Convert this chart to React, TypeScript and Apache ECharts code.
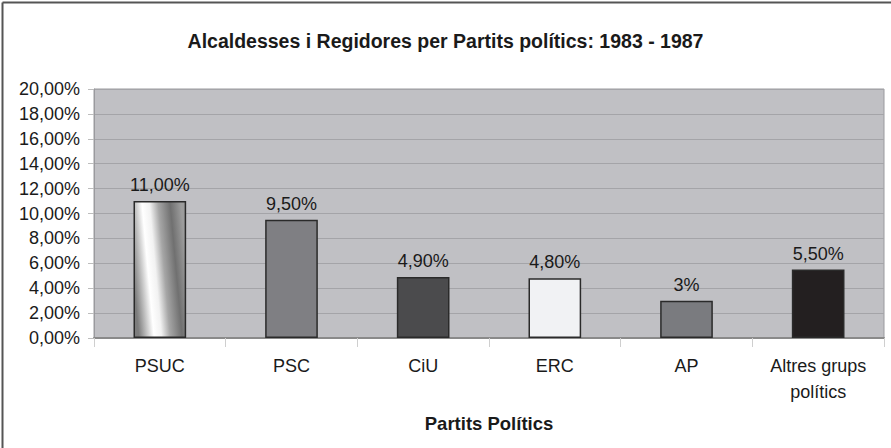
import React, { useEffect, useRef } from "react";
import * as echarts from "echarts";

const categories = ["PSUC", "PSC", "CiU", "ERC", "AP", "Altres grups\npolítics"];
const values = [11.0, 9.5, 4.9, 4.8, 3.0, 5.5];
const valueLabels = ["11,00%", "9,50%", "4,90%", "4,80%", "3%", "5,50%"];
const yTicks = [0, 2, 4, 6, 8, 10, 12, 14, 16, 18, 20];
const yTickLabels = ["0,00%", "2,00%", "4,00%", "6,00%", "8,00%", "10,00%", "12,00%", "14,00%", "16,00%", "18,00%", "20,00%"];

const FONT = "'Liberation Sans', Arial, sans-serif";

export default function App() {
  const ref = useRef<HTMLDivElement>(null);
  useEffect(() => {
    if (!ref.current) return;
    const chart = echarts.init(ref.current, undefined, { renderer: "svg" });
    const metallic = new echarts.graphic.LinearGradient(0, 0.62, 1, 0.38, [
      { offset: 0, color: "#7c7c7c" },
      { offset: 0.28, color: "#ffffff" },
      { offset: 0.42, color: "#f2f2f2" },
      { offset: 0.58, color: "#a6a6a6" },
      { offset: 0.8, color: "#707070" },
      { offset: 1, color: "#9c9c9c" },
    ]);
    const fills: any[] = [metallic, "#7f7f83", "#4b4b4d", "#f1f2f4", "#7a7b7f", "#231f20"];
    chart.setOption({
      animation: false,
      backgroundColor: "#ffffff",
      textStyle: { fontFamily: FONT },
      title: {
        text: "Alcaldesses i Regidores per Partits polítics: 1983 - 1987",
        left: "center",
        top: 26,
        textStyle: { fontFamily: FONT, fontSize: 19.5, fontWeight: "bold", color: "#1a1a1a" },
      },
      graphic: [
        { type: "line", shape: { x1: 2.5, y1: 2.5, x2: 891, y2: 2.5 }, style: { stroke: "#555", lineWidth: 2 } },
        { type: "line", shape: { x1: 2.5, y1: 2.5, x2: 2.5, y2: 448 }, style: { stroke: "#555", lineWidth: 2 } },
      ],
      grid: {
        left: 94,
        top: 89,
        right: 7,
        bottom: 110,
        show: true,
        backgroundColor: "#c0c0c4",
        borderColor: "#9a9a9e",
        borderWidth: 1,
      },
      xAxis: {
        type: "category",
        data: categories,
        name: "Partits Polítics",
        nameLocation: "middle",
        nameGap: 76,
        nameTextStyle: { fontFamily: FONT, fontSize: 18.5, fontWeight: "bold", color: "#1a1a1a" },
        axisLine: { lineStyle: { color: "#8a8a8a", width: 2 } },
        axisTick: { show: true, interval: 0, length: 9, lineStyle: { color: "#cfcfcf" } },
        axisLabel: { interval: 0, margin: 15, fontSize: 18, lineHeight: 26, color: "#1a1a1a", fontFamily: FONT },
      },
      yAxis: {
        type: "value",
        min: 0,
        max: 20,
        interval: 2,
        axisLine: { show: true, lineStyle: { color: "#9a9a9e" } },
        axisTick: { show: true, length: 6, lineStyle: { color: "#bdbdbd" } },
        splitLine: { lineStyle: { color: "#a4a4a8", width: 1 } },
        axisLabel: {
          margin: 14,
          fontSize: 18,
          color: "#1a1a1a",
          fontFamily: FONT,
          formatter: (v: number) => yTickLabels[yTicks.indexOf(v)] ?? "",
        },
      },
      series: [
        {
          type: "bar",
          barWidth: "40%",
          data: values.map((v, i) => ({
            value: v,
            itemStyle: { color: fills[i], borderColor: "#2a2a2a", borderWidth: 1.5 },
          })),
          label: {
            show: true,
            position: "top",
            distance: 7,
            fontSize: 18,
            color: "#1a1a1a",
            fontFamily: FONT,
            formatter: (p: any) => valueLabels[p.dataIndex],
          },
        },
      ],
    });
    return () => chart.dispose();
  }, []);
  return <div ref={ref} style={{ width: 891, height: 448, position: "absolute", left: 0, top: 0 }} />;
}
